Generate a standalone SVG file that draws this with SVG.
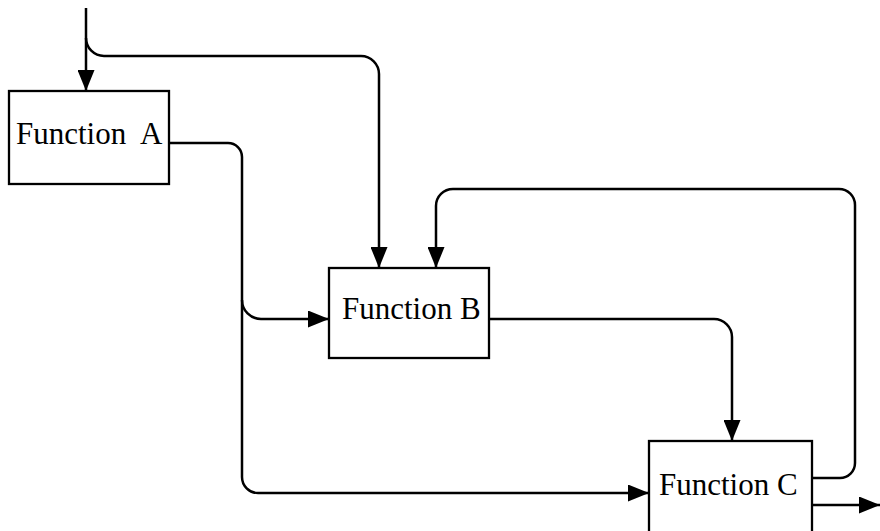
<svg xmlns="http://www.w3.org/2000/svg" width="880" height="531" viewBox="0 0 880 531">
<style>
.box{fill:#fff;stroke:#000;stroke-width:2.3}
.lbl{font-family:"Liberation Serif","Times New Roman",serif;font-size:31px;fill:#000}
.c{fill:none;stroke:#000;stroke-width:2.5}
</style>
<defs>
<marker id="ah" viewBox="0 0 21 17" refX="21" refY="8.5" markerWidth="21" markerHeight="17" markerUnits="userSpaceOnUse" orient="auto">
<path d="M0,0 L21,8.5 L0,17 z" fill="#000"/>
</marker>
</defs>
<rect width="880" height="531" fill="#fff"/>
<g id="connectors">
<path class="c" d="M86,8 V91" marker-end="url(#ah)"/>
<path class="c" d="M86,38 A18,18 0 0 0 104,56 H361 A18,18 0 0 1 379,74 V268" marker-end="url(#ah)"/>
<path class="c" d="M169,143 H228 A14,14 0 0 1 242,157 V477 A16,16 0 0 0 258,493 H649" marker-end="url(#ah)"/>
<path class="c" d="M242,300 A19,19 0 0 0 261,319 H329" marker-end="url(#ah)"/>
<path class="c" d="M489,319 H714 A18,18 0 0 1 732,337 V441" marker-end="url(#ah)"/>
<path class="c" d="M812,478 H840 A15,15 0 0 0 855,463 V205 A16,16 0 0 0 839,189 H453 A17,17 0 0 0 436,206 V268" marker-end="url(#ah)"/>
<path class="c" d="M812,505 H880" marker-end="url(#ah)"/>
</g>
<g id="functionA">
<rect class="box" x="9" y="91" width="160" height="93"/>
<text class="lbl" x="16" y="144" xml:space="preserve">Function  A</text>
</g>
<g id="functionB">
<rect class="box" x="329" y="268" width="160" height="90"/>
<text class="lbl" x="342" y="319">Function B</text>
</g>
<g id="functionC">
<rect class="box" x="649" y="441" width="163" height="100"/>
<text class="lbl" x="659" y="495">Function C</text>
</g>
</svg>
